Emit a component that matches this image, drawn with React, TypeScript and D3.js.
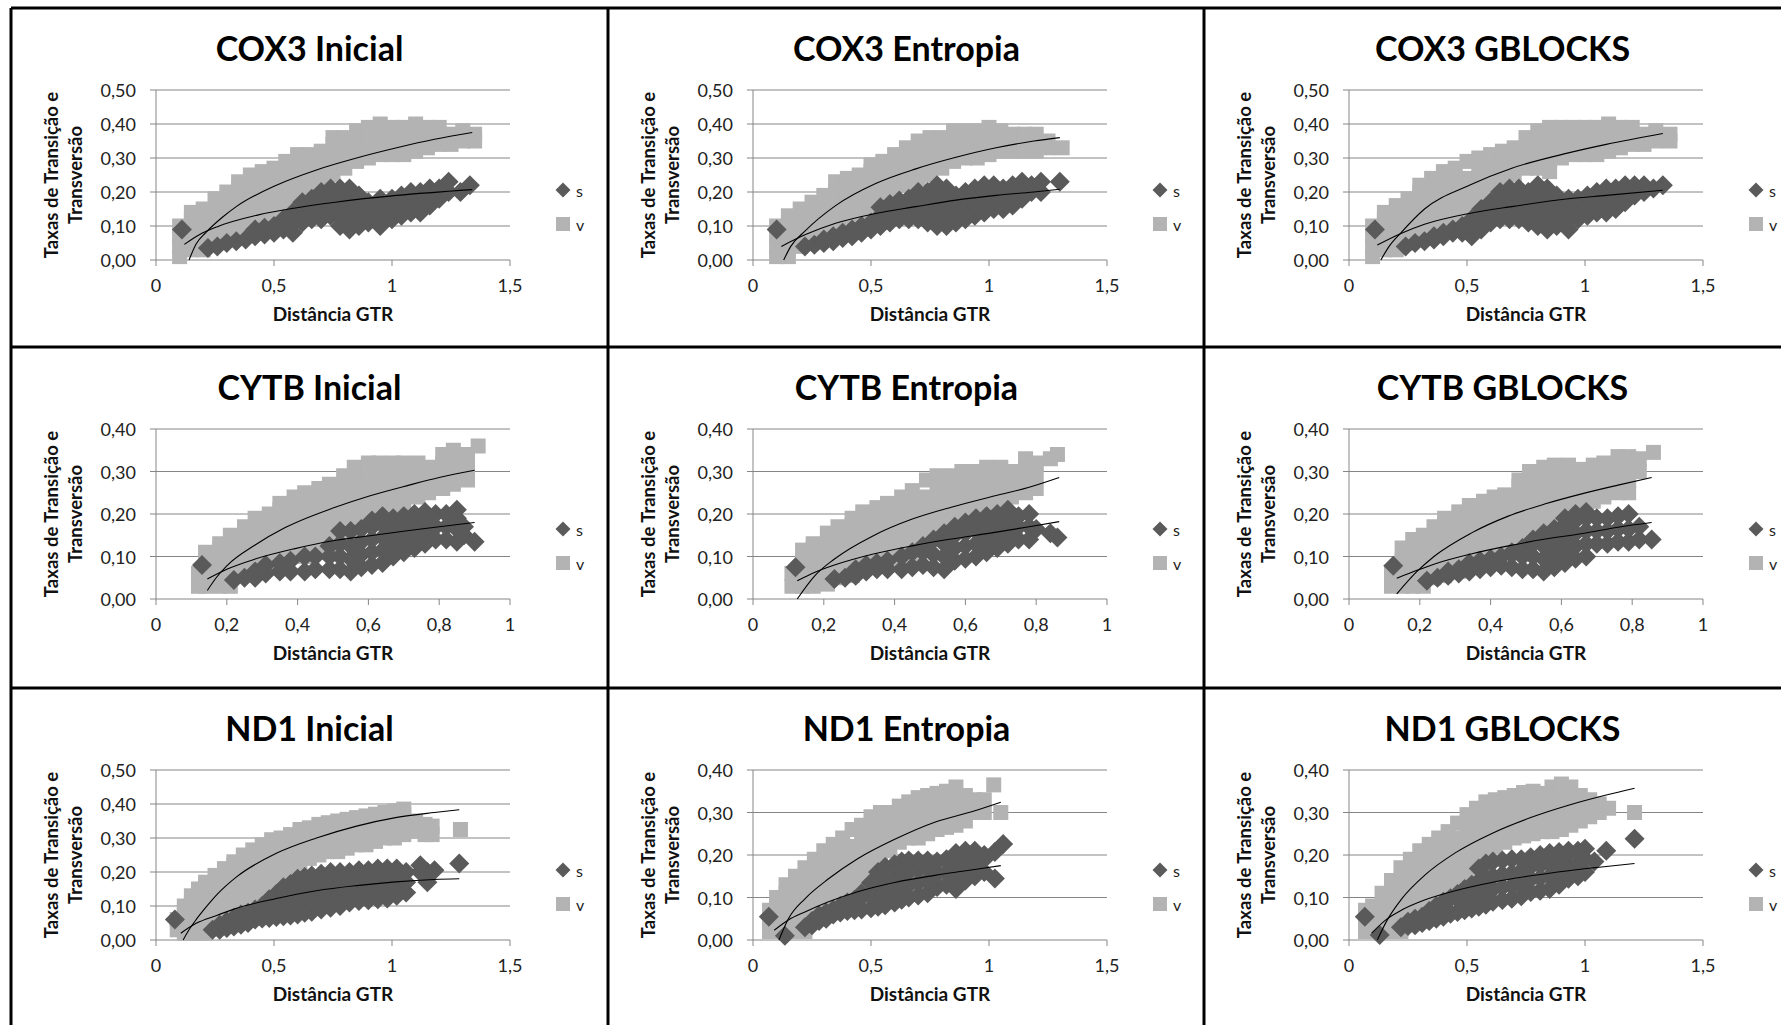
import React from "react";
import * as d3 from "d3";

// Each row: [x, y1, y2, ...] -> one marker per y at that x
const cox3InicialV = [
  [0.10, 0.01, 0.04, 0.07, 0.10], [0.15, 0.03, 0.06, 0.09, 0.12, 0.14], [0.20, 0.03, 0.06, 0.09, 0.12, 0.15],
  [0.25, 0.05, 0.08, 0.11, 0.14, 0.18], [0.30, 0.08, 0.11, 0.14, 0.17, 0.20], [0.35, 0.09, 0.12, 0.15, 0.18, 0.21, 0.23],
  [0.40, 0.10, 0.13, 0.16, 0.19, 0.22, 0.25], [0.45, 0.11, 0.14, 0.17, 0.20, 0.23, 0.26], [0.50, 0.12, 0.15, 0.18, 0.21, 0.24, 0.27],
  [0.55, 0.14, 0.17, 0.20, 0.23, 0.26, 0.29], [0.60, 0.17, 0.20, 0.23, 0.26, 0.29, 0.31], [0.65, 0.19, 0.22, 0.25, 0.28, 0.31],
  [0.70, 0.23, 0.26, 0.29, 0.32], [0.75, 0.25, 0.28, 0.31, 0.34, 0.36], [0.80, 0.27, 0.30, 0.33, 0.36],
  [0.85, 0.29, 0.32, 0.35, 0.38], [0.90, 0.30, 0.33, 0.36, 0.39], [0.95, 0.31, 0.34, 0.37, 0.40],
  [1.00, 0.31, 0.34, 0.37, 0.39], [1.05, 0.31, 0.34, 0.37, 0.39], [1.10, 0.32, 0.35, 0.38, 0.40],
  [1.15, 0.33, 0.36, 0.39], [1.20, 0.34, 0.37, 0.39], [1.25, 0.34, 0.37], [1.30, 0.35, 0.38], [1.35, 0.35, 0.37],
];
const cox3InicialS = [
  [0.11, 0.09], [0.22, 0.035], [0.26, 0.04], [0.30, 0.05], [0.34, 0.055], [0.38, 0.06], [0.42, 0.07, 0.09],
  [0.46, 0.075, 0.095], [0.50, 0.08, 0.10], [0.54, 0.09, 0.12], [0.58, 0.08, 0.11, 0.14], [0.62, 0.11, 0.14, 0.17],
  [0.66, 0.12, 0.15, 0.18], [0.70, 0.12, 0.15, 0.18, 0.20], [0.74, 0.13, 0.16, 0.19, 0.21],
  [0.78, 0.10, 0.13, 0.16, 0.19, 0.21], [0.82, 0.09, 0.12, 0.15, 0.18, 0.21], [0.86, 0.10, 0.13, 0.16, 0.19],
  [0.90, 0.11, 0.14, 0.17], [0.95, 0.10, 0.13, 0.16, 0.18], [1.00, 0.12, 0.15, 0.18], [1.04, 0.13, 0.16, 0.19],
  [1.08, 0.14, 0.17, 0.20], [1.12, 0.14, 0.17, 0.20], [1.16, 0.16, 0.19, 0.21], [1.20, 0.18, 0.21],
  [1.24, 0.20, 0.23], [1.29, 0.20], [1.33, 0.22],
];
const cox3InicialTrendV = [[0.14, 0], [0.17, 0.047], [0.21, 0.08], [0.28, 0.125], [0.34, 0.157], [0.51, 0.22], [0.68, 0.265], [0.85, 0.30], [1.02, 0.33], [1.18, 0.355], [1.34, 0.375]];
const cox3InicialTrendS = [[0.12, 0.046], [0.18, 0.073], [0.26, 0.098], [0.43, 0.132], [0.59, 0.153], [0.76, 0.17], [1.02, 0.19], [1.34, 0.207]];

const cox3EntropiaV = [
  [0.10, 0.01, 0.04, 0.07, 0.10], [0.15, 0.01, 0.04, 0.07, 0.10, 0.13], [0.20, 0.04, 0.07, 0.10, 0.13, 0.15],
  [0.25, 0.05, 0.08, 0.11, 0.14, 0.17], [0.30, 0.07, 0.10, 0.13, 0.16, 0.19], [0.35, 0.08, 0.11, 0.14, 0.17, 0.20, 0.23],
  [0.40, 0.09, 0.12, 0.15, 0.18, 0.21, 0.24], [0.45, 0.10, 0.13, 0.16, 0.19, 0.22, 0.25], [0.50, 0.11, 0.14, 0.17, 0.20, 0.23, 0.26, 0.28],
  [0.55, 0.15, 0.18, 0.21, 0.24, 0.27, 0.29], [0.60, 0.19, 0.22, 0.25, 0.28, 0.31], [0.65, 0.22, 0.25, 0.28, 0.31, 0.33],
  [0.70, 0.24, 0.27, 0.30, 0.33, 0.35], [0.75, 0.25, 0.28, 0.31, 0.34, 0.36], [0.80, 0.27, 0.30, 0.33, 0.36],
  [0.85, 0.29, 0.32, 0.35, 0.38], [0.90, 0.30, 0.33, 0.36, 0.38], [0.95, 0.30, 0.33, 0.36, 0.38],
  [1.00, 0.31, 0.34, 0.37, 0.39], [1.05, 0.32, 0.35, 0.38], [1.10, 0.32, 0.35, 0.37], [1.15, 0.32, 0.35, 0.37],
  [1.20, 0.32, 0.35, 0.37], [1.25, 0.33, 0.35], [1.31, 0.33],
];
const cox3EntropiaS = [
  [0.10, 0.09], [0.22, 0.04], [0.26, 0.045], [0.30, 0.05, 0.06], [0.34, 0.055, 0.07], [0.38, 0.065, 0.08],
  [0.42, 0.07, 0.09], [0.46, 0.08, 0.10], [0.50, 0.09, 0.11], [0.54, 0.10, 0.13, 0.155], [0.58, 0.11, 0.14, 0.165],
  [0.62, 0.12, 0.15, 0.175], [0.66, 0.12, 0.15, 0.18], [0.70, 0.12, 0.15, 0.18, 0.20], [0.74, 0.11, 0.14, 0.17, 0.20],
  [0.78, 0.10, 0.13, 0.16, 0.19, 0.22], [0.82, 0.10, 0.13, 0.16, 0.19, 0.21], [0.86, 0.11, 0.14, 0.17, 0.19],
  [0.90, 0.12, 0.15, 0.18, 0.20], [0.94, 0.13, 0.16, 0.19, 0.21], [0.98, 0.14, 0.17, 0.20, 0.22],
  [1.02, 0.15, 0.18, 0.21, 0.22], [1.06, 0.15, 0.18, 0.21], [1.10, 0.16, 0.19, 0.22], [1.14, 0.18, 0.21, 0.23],
  [1.18, 0.20, 0.22], [1.22, 0.20, 0.23], [1.30, 0.23],
];
const cox3EntropiaTrendV = [[0.13, 0], [0.16, 0.04], [0.22, 0.085], [0.35, 0.16], [0.52, 0.225], [0.69, 0.268], [0.86, 0.302], [1.03, 0.33], [1.19, 0.35], [1.30, 0.36]];
const cox3EntropiaTrendS = [[0.12, 0.04], [0.22, 0.074], [0.35, 0.108], [0.52, 0.137], [0.69, 0.157], [0.86, 0.176], [1.03, 0.19], [1.19, 0.20], [1.30, 0.208]];

const cox3GblocksV = [
  [0.10, 0.01, 0.04, 0.07, 0.10], [0.15, 0.03, 0.06, 0.09, 0.12, 0.14], [0.20, 0.03, 0.06, 0.09, 0.12, 0.16],
  [0.25, 0.05, 0.08, 0.11, 0.14, 0.18], [0.30, 0.08, 0.11, 0.14, 0.17, 0.20, 0.22], [0.35, 0.09, 0.12, 0.15, 0.18, 0.21, 0.24],
  [0.40, 0.10, 0.13, 0.16, 0.19, 0.22, 0.26], [0.45, 0.11, 0.14, 0.17, 0.20, 0.23, 0.27], [0.50, 0.12, 0.15, 0.18, 0.21, 0.24, 0.29],
  [0.55, 0.14, 0.17, 0.20, 0.23, 0.26, 0.30], [0.60, 0.18, 0.21, 0.24, 0.27, 0.31], [0.65, 0.21, 0.24, 0.27, 0.30, 0.32],
  [0.70, 0.25, 0.28, 0.31, 0.33], [0.75, 0.27, 0.30, 0.33, 0.36], [0.80, 0.27, 0.30, 0.33, 0.36, 0.38],
  [0.85, 0.26, 0.29, 0.32, 0.35, 0.39], [0.90, 0.30, 0.33, 0.36, 0.39], [0.95, 0.31, 0.34, 0.37, 0.39],
  [1.00, 0.31, 0.34, 0.37, 0.39], [1.05, 0.31, 0.34, 0.37, 0.39], [1.10, 0.32, 0.35, 0.38, 0.40],
  [1.15, 0.33, 0.36, 0.39], [1.20, 0.34, 0.37, 0.39], [1.25, 0.34, 0.37], [1.30, 0.35, 0.38], [1.36, 0.35, 0.37],
];
const cox3GblocksS = [
  [0.11, 0.09], [0.24, 0.04], [0.28, 0.05], [0.32, 0.055], [0.36, 0.06, 0.07], [0.40, 0.07, 0.08], [0.44, 0.08, 0.09],
  [0.48, 0.08, 0.10], [0.52, 0.07, 0.10, 0.12], [0.56, 0.09, 0.12, 0.15], [0.60, 0.11, 0.14, 0.17],
  [0.64, 0.12, 0.15, 0.18, 0.20], [0.68, 0.12, 0.15, 0.18, 0.21], [0.72, 0.12, 0.15, 0.18, 0.21],
  [0.76, 0.11, 0.14, 0.17, 0.20], [0.80, 0.10, 0.13, 0.16, 0.19, 0.22], [0.84, 0.09, 0.12, 0.15, 0.18, 0.21],
  [0.88, 0.10, 0.13, 0.16, 0.19], [0.93, 0.09, 0.12, 0.15, 0.18], [0.97, 0.12, 0.15, 0.18], [1.01, 0.13, 0.16, 0.19],
  [1.05, 0.14, 0.17, 0.20], [1.09, 0.14, 0.17, 0.21], [1.13, 0.15, 0.18, 0.21], [1.17, 0.17, 0.20, 0.22],
  [1.21, 0.19, 0.22], [1.25, 0.20, 0.22], [1.29, 0.21], [1.33, 0.22],
];
const cox3GblocksTrendV = [[0.135, 0], [0.17, 0.04], [0.22, 0.08], [0.32, 0.15], [0.51, 0.22], [0.69, 0.27], [0.93, 0.315], [1.09, 0.34], [1.33, 0.372]];
const cox3GblocksTrendS = [[0.12, 0.044], [0.22, 0.078], [0.32, 0.105], [0.51, 0.137], [0.69, 0.157], [0.93, 0.18], [1.09, 0.19], [1.33, 0.205]];

const cytbInicialV = [
  [0.12, 0.03, 0.06], [0.14, 0.03, 0.06, 0.09, 0.11], [0.18, 0.03, 0.06, 0.09, 0.12, 0.13], [0.21, 0.03, 0.06, 0.09, 0.12, 0.15],
  [0.25, 0.06, 0.09, 0.12, 0.15, 0.17], [0.28, 0.07, 0.10, 0.13, 0.16, 0.19], [0.32, 0.08, 0.11, 0.14, 0.17, 0.20],
  [0.35, 0.09, 0.12, 0.15, 0.18, 0.21, 0.225], [0.39, 0.10, 0.13, 0.16, 0.19, 0.22, 0.24], [0.42, 0.10, 0.13, 0.16, 0.19, 0.22, 0.25],
  [0.46, 0.11, 0.14, 0.17, 0.20, 0.23, 0.26], [0.49, 0.12, 0.15, 0.18, 0.21, 0.24, 0.27], [0.53, 0.14, 0.17, 0.20, 0.23, 0.26, 0.29],
  [0.56, 0.16, 0.19, 0.22, 0.25, 0.28, 0.31], [0.60, 0.18, 0.21, 0.24, 0.27, 0.30, 0.32], [0.63, 0.20, 0.23, 0.26, 0.29, 0.32],
  [0.67, 0.21, 0.24, 0.27, 0.30, 0.32], [0.70, 0.22, 0.25, 0.28, 0.31, 0.32], [0.74, 0.24, 0.27, 0.30, 0.32],
  [0.77, 0.25, 0.28, 0.31], [0.81, 0.26, 0.29, 0.32, 0.34], [0.84, 0.27, 0.30, 0.33, 0.35], [0.88, 0.28, 0.31, 0.34], [0.91, 0.36],
];
const cytbInicialS = [
  [0.13, 0.08], [0.22, 0.045], [0.25, 0.05], [0.28, 0.05, 0.065], [0.31, 0.06, 0.08], [0.35, 0.065, 0.085], [0.38, 0.065, 0.09],
  [0.42, 0.065, 0.10], [0.45, 0.07, 0.10], [0.49, 0.07, 0.10, 0.125], [0.52, 0.07, 0.10, 0.13, 0.16], [0.55, 0.065, 0.095, 0.125, 0.16],
  [0.58, 0.075, 0.105, 0.135, 0.165], [0.61, 0.08, 0.11, 0.14, 0.17, 0.185], [0.64, 0.085, 0.115, 0.145, 0.175, 0.195],
  [0.67, 0.10, 0.13, 0.16, 0.19], [0.70, 0.11, 0.14, 0.17, 0.195], [0.73, 0.12, 0.15, 0.18, 0.20], [0.76, 0.13, 0.16, 0.19, 0.205],
  [0.79, 0.14, 0.17, 0.20], [0.82, 0.14, 0.17, 0.20], [0.85, 0.135, 0.165, 0.19, 0.21], [0.87, 0.15, 0.17], [0.90, 0.135],
];
const cytbInicialTrendV = [[0.145, 0.02], [0.17, 0.05], [0.20, 0.078], [0.28, 0.127], [0.365, 0.168], [0.50, 0.214], [0.605, 0.243], [0.715, 0.268], [0.80, 0.286], [0.90, 0.303]];
const cytbInicialTrendS = [[0.145, 0.047], [0.20, 0.07], [0.28, 0.094], [0.39, 0.118], [0.50, 0.137], [0.605, 0.149], [0.715, 0.161], [0.80, 0.17], [0.90, 0.18]];

const cytbEntropiaV = [
  [0.11, 0.03, 0.06], [0.14, 0.03, 0.06, 0.09, 0.115], [0.17, 0.03, 0.06, 0.09, 0.12, 0.13], [0.21, 0.035, 0.065, 0.095, 0.125, 0.155],
  [0.24, 0.05, 0.08, 0.11, 0.14, 0.17], [0.28, 0.055, 0.085, 0.115, 0.145, 0.175, 0.19], [0.31, 0.07, 0.10, 0.13, 0.16, 0.19, 0.205],
  [0.35, 0.08, 0.11, 0.14, 0.17, 0.20, 0.215], [0.38, 0.085, 0.115, 0.145, 0.175, 0.205, 0.225], [0.42, 0.09, 0.12, 0.15, 0.18, 0.21, 0.24],
  [0.45, 0.10, 0.13, 0.16, 0.19, 0.22, 0.255], [0.49, 0.12, 0.15, 0.18, 0.21, 0.24, 0.28], [0.52, 0.14, 0.17, 0.20, 0.23, 0.26, 0.29],
  [0.56, 0.17, 0.20, 0.23, 0.26, 0.29], [0.59, 0.19, 0.22, 0.25, 0.28, 0.30], [0.63, 0.21, 0.24, 0.27, 0.30],
  [0.66, 0.22, 0.25, 0.28, 0.31], [0.70, 0.23, 0.26, 0.29, 0.31], [0.73, 0.24, 0.27, 0.30], [0.77, 0.25, 0.28, 0.31, 0.33],
  [0.80, 0.26, 0.29, 0.32], [0.84, 0.33], [0.86, 0.34],
];
const cytbEntropiaS = [
  [0.12, 0.075], [0.23, 0.047], [0.26, 0.05], [0.29, 0.055, 0.07], [0.32, 0.065, 0.08], [0.35, 0.07, 0.085], [0.38, 0.07, 0.09],
  [0.42, 0.07, 0.10], [0.45, 0.075, 0.11], [0.48, 0.08, 0.11, 0.125], [0.51, 0.075, 0.105, 0.14], [0.54, 0.07, 0.10, 0.13, 0.155],
  [0.57, 0.09, 0.12, 0.15, 0.17], [0.60, 0.095, 0.125, 0.155, 0.18], [0.63, 0.10, 0.13, 0.16, 0.19], [0.66, 0.11, 0.14, 0.17, 0.195],
  [0.69, 0.12, 0.15, 0.18, 0.20], [0.72, 0.13, 0.16, 0.19, 0.21], [0.75, 0.14, 0.17, 0.195], [0.78, 0.14, 0.17, 0.20],
  [0.80, 0.165], [0.84, 0.155], [0.86, 0.145],
];
const cytbEntropiaTrendV = [[0.125, 0], [0.175, 0.055], [0.23, 0.094], [0.34, 0.149], [0.45, 0.188], [0.56, 0.216], [0.67, 0.24], [0.78, 0.263], [0.865, 0.286]];
const cytbEntropiaTrendS = [[0.125, 0.043], [0.175, 0.063], [0.23, 0.08], [0.34, 0.106], [0.45, 0.125], [0.56, 0.141], [0.67, 0.155], [0.78, 0.17], [0.865, 0.182]];

const cytbGblocksV = [
  [0.12, 0.03, 0.06], [0.15, 0.03, 0.06, 0.09, 0.12], [0.18, 0.03, 0.06, 0.09, 0.12, 0.14], [0.21, 0.03, 0.06, 0.09, 0.12, 0.15],
  [0.24, 0.05, 0.08, 0.11, 0.14, 0.17], [0.27, 0.055, 0.085, 0.115, 0.145, 0.175, 0.19], [0.31, 0.065, 0.095, 0.125, 0.155, 0.185, 0.205],
  [0.34, 0.075, 0.105, 0.135, 0.165, 0.195, 0.22], [0.38, 0.08, 0.11, 0.14, 0.17, 0.20, 0.23], [0.41, 0.09, 0.12, 0.15, 0.18, 0.21, 0.24],
  [0.44, 0.10, 0.13, 0.16, 0.19, 0.22, 0.245], [0.48, 0.115, 0.145, 0.175, 0.205, 0.235, 0.265, 0.28],
  [0.51, 0.13, 0.16, 0.19, 0.22, 0.25, 0.28, 0.30], [0.55, 0.16, 0.19, 0.22, 0.25, 0.28, 0.31], [0.58, 0.18, 0.21, 0.24, 0.27, 0.30, 0.315],
  [0.62, 0.20, 0.23, 0.26, 0.29, 0.315], [0.65, 0.215, 0.245, 0.275, 0.305], [0.69, 0.23, 0.26, 0.29, 0.315],
  [0.72, 0.24, 0.27, 0.30, 0.32], [0.76, 0.25, 0.28, 0.31, 0.335], [0.79, 0.25, 0.28, 0.31, 0.335], [0.82, 0.30, 0.33], [0.86, 0.345],
];
const cytbGblocksS = [
  [0.125, 0.078], [0.22, 0.043], [0.25, 0.05], [0.28, 0.055, 0.065], [0.31, 0.06, 0.07], [0.34, 0.065, 0.085], [0.37, 0.07, 0.09],
  [0.40, 0.075, 0.095], [0.43, 0.078, 0.10], [0.46, 0.075, 0.105, 0.11], [0.49, 0.07, 0.10, 0.12], [0.52, 0.07, 0.10, 0.13, 0.14],
  [0.55, 0.065, 0.095, 0.125, 0.155], [0.58, 0.075, 0.105, 0.135, 0.165], [0.61, 0.085, 0.115, 0.145, 0.175, 0.19],
  [0.64, 0.095, 0.125, 0.155, 0.185, 0.20], [0.67, 0.10, 0.13, 0.16, 0.19, 0.205], [0.70, 0.13, 0.16, 0.19], [0.73, 0.13, 0.16, 0.19],
  [0.76, 0.135, 0.165, 0.195], [0.79, 0.135, 0.165, 0.20], [0.82, 0.14, 0.17], [0.855, 0.14],
];
const cytbGblocksTrendV = [[0.135, 0.012], [0.19, 0.063], [0.24, 0.10], [0.345, 0.155], [0.45, 0.195], [0.555, 0.224], [0.66, 0.248], [0.76, 0.268], [0.855, 0.286]];
const cytbGblocksTrendS = [[0.135, 0.049], [0.19, 0.067], [0.24, 0.082], [0.345, 0.106], [0.45, 0.125], [0.555, 0.141], [0.66, 0.154], [0.76, 0.169], [0.855, 0.18]];

const nd1InicialV = [
  [0.09, 0.03, 0.06], [0.12, 0.02, 0.05, 0.08, 0.10], [0.15, 0.02, 0.05, 0.08, 0.11, 0.13], [0.18, 0.02, 0.05, 0.08, 0.11, 0.14, 0.15],
  [0.21, 0.02, 0.05, 0.08, 0.11, 0.14, 0.17], [0.25, 0.04, 0.07, 0.10, 0.13, 0.16, 0.19], [0.29, 0.06, 0.09, 0.12, 0.15, 0.18, 0.21],
  [0.33, 0.07, 0.10, 0.13, 0.16, 0.19, 0.22, 0.23], [0.37, 0.08, 0.11, 0.14, 0.17, 0.20, 0.23, 0.25],
  [0.41, 0.09, 0.12, 0.15, 0.18, 0.21, 0.24, 0.265], [0.45, 0.10, 0.13, 0.16, 0.19, 0.22, 0.25, 0.28],
  [0.49, 0.12, 0.15, 0.18, 0.21, 0.24, 0.27, 0.295], [0.53, 0.15, 0.18, 0.21, 0.24, 0.27, 0.30], [0.57, 0.19, 0.22, 0.25, 0.28, 0.31],
  [0.61, 0.22, 0.25, 0.28, 0.31, 0.325], [0.65, 0.24, 0.27, 0.30, 0.33], [0.69, 0.25, 0.28, 0.31, 0.34], [0.73, 0.26, 0.29, 0.32, 0.345],
  [0.77, 0.26, 0.29, 0.32, 0.35], [0.81, 0.27, 0.30, 0.33, 0.355], [0.85, 0.28, 0.31, 0.34, 0.36], [0.89, 0.28, 0.31, 0.34, 0.365],
  [0.93, 0.29, 0.32, 0.35, 0.37], [0.97, 0.30, 0.33, 0.36, 0.375], [1.01, 0.30, 0.33, 0.36, 0.38], [1.05, 0.31, 0.34, 0.37, 0.385],
  [1.10, 0.32, 0.35], [1.14, 0.31, 0.34], [1.17, 0.31, 0.335], [1.29, 0.325],
];
const nd1InicialS = [
  [0.08, 0.06], [0.24, 0.03], [0.27, 0.03, 0.045], [0.30, 0.035, 0.055], [0.33, 0.04, 0.065], [0.36, 0.045, 0.075], [0.39, 0.05, 0.08],
  [0.42, 0.06, 0.09], [0.45, 0.063, 0.093, 0.10], [0.48, 0.065, 0.095, 0.12], [0.51, 0.068, 0.098, 0.128, 0.135],
  [0.54, 0.07, 0.10, 0.13, 0.155], [0.57, 0.072, 0.102, 0.132, 0.165], [0.60, 0.075, 0.105, 0.135, 0.165, 0.18],
  [0.63, 0.08, 0.11, 0.14, 0.17, 0.185], [0.66, 0.083, 0.113, 0.143, 0.173, 0.19], [0.70, 0.09, 0.12, 0.15, 0.18, 0.195],
  [0.74, 0.095, 0.125, 0.155, 0.185, 0.20], [0.78, 0.10, 0.13, 0.16, 0.19, 0.20], [0.82, 0.11, 0.14, 0.17, 0.20],
  [0.86, 0.115, 0.145, 0.175, 0.205], [0.90, 0.117, 0.147, 0.177, 0.205], [0.94, 0.12, 0.15, 0.18, 0.21],
  [0.98, 0.122, 0.152, 0.182, 0.21], [1.02, 0.13, 0.16, 0.19, 0.21], [1.06, 0.14, 0.17, 0.20], [1.12, 0.20, 0.22],
  [1.15, 0.17, 0.20], [1.18, 0.205], [1.285, 0.225],
];
const nd1InicialTrendV = [[0.115, 0], [0.14, 0.03], [0.17, 0.06], [0.21, 0.095], [0.26, 0.135], [0.34, 0.185], [0.51, 0.255], [0.68, 0.30], [0.85, 0.335], [1.015, 0.36], [1.18, 0.375], [1.285, 0.383]];
const nd1InicialTrendS = [[0.105, 0.02], [0.17, 0.049], [0.26, 0.073], [0.34, 0.093], [0.51, 0.122], [0.68, 0.145], [0.85, 0.16], [1.015, 0.171], [1.18, 0.178], [1.285, 0.18]];

const nd1EntropiaV = [
  [0.07, 0.02, 0.05, 0.07], [0.10, 0.02, 0.05, 0.08, 0.10], [0.14, 0.02, 0.05, 0.08, 0.11, 0.13], [0.18, 0.02, 0.05, 0.08, 0.11, 0.14, 0.15],
  [0.22, 0.02, 0.05, 0.08, 0.11, 0.14, 0.17], [0.26, 0.05, 0.08, 0.11, 0.14, 0.17, 0.19], [0.30, 0.07, 0.10, 0.13, 0.16, 0.19, 0.21],
  [0.34, 0.08, 0.11, 0.14, 0.17, 0.20, 0.225], [0.38, 0.09, 0.12, 0.15, 0.18, 0.21, 0.24], [0.42, 0.10, 0.13, 0.16, 0.19, 0.22, 0.26],
  [0.46, 0.12, 0.15, 0.18, 0.21, 0.24, 0.27], [0.50, 0.14, 0.17, 0.20, 0.23, 0.26, 0.29], [0.54, 0.18, 0.21, 0.24, 0.27, 0.30],
  [0.58, 0.21, 0.24, 0.27, 0.30], [0.62, 0.23, 0.26, 0.29, 0.315], [0.66, 0.24, 0.27, 0.30, 0.325], [0.70, 0.24, 0.27, 0.30, 0.335],
  [0.74, 0.25, 0.28, 0.31, 0.34], [0.78, 0.26, 0.29, 0.32, 0.345], [0.82, 0.265, 0.295, 0.325, 0.35], [0.86, 0.27, 0.30, 0.33, 0.36],
  [0.90, 0.28, 0.31, 0.34], [0.94, 0.30, 0.33], [0.98, 0.30, 0.33], [1.02, 0.365], [1.05, 0.30],
];
const nd1EntropiaS = [
  [0.067, 0.055], [0.135, 0.01], [0.22, 0.03], [0.25, 0.035, 0.045], [0.28, 0.045, 0.058], [0.31, 0.05, 0.065], [0.34, 0.06, 0.072],
  [0.37, 0.065, 0.08], [0.40, 0.068, 0.088], [0.43, 0.07, 0.095], [0.46, 0.072, 0.10, 0.11], [0.50, 0.075, 0.105, 0.135],
  [0.53, 0.078, 0.108, 0.138, 0.16], [0.56, 0.082, 0.112, 0.142, 0.172], [0.60, 0.088, 0.118, 0.148, 0.178],
  [0.63, 0.095, 0.125, 0.155, 0.185], [0.66, 0.10, 0.13, 0.16, 0.187], [0.70, 0.105, 0.135, 0.165, 0.187],
  [0.74, 0.11, 0.14, 0.17, 0.187], [0.78, 0.125, 0.155, 0.185], [0.82, 0.13, 0.16, 0.19], [0.86, 0.12, 0.15, 0.18, 0.205],
  [0.90, 0.14, 0.17, 0.20, 0.21], [0.94, 0.15, 0.18, 0.21], [0.98, 0.16, 0.19, 0.20], [1.025, 0.145, 0.207], [1.06, 0.226],
];
const nd1EntropiaTrendV = [[0.11, 0], [0.15, 0.05], [0.22, 0.097], [0.32, 0.144], [0.44, 0.19], [0.605, 0.238], [0.77, 0.277], [0.94, 0.304], [1.05, 0.324]];
const nd1EntropiaTrendS = [[0.09, 0.023], [0.15, 0.047], [0.22, 0.066], [0.32, 0.09], [0.44, 0.113], [0.605, 0.136], [0.77, 0.152], [0.94, 0.166], [1.05, 0.175]];

const nd1GblocksV = [
  [0.07, 0.02, 0.05, 0.07], [0.10, 0.02, 0.05, 0.08], [0.14, 0.02, 0.05, 0.08, 0.11], [0.18, 0.02, 0.05, 0.08, 0.11, 0.14],
  [0.22, 0.02, 0.05, 0.08, 0.11, 0.14, 0.17], [0.26, 0.04, 0.07, 0.10, 0.13, 0.16, 0.19], [0.30, 0.06, 0.09, 0.12, 0.15, 0.18, 0.21],
  [0.34, 0.075, 0.105, 0.135, 0.165, 0.195, 0.225], [0.38, 0.09, 0.12, 0.15, 0.18, 0.21, 0.24], [0.42, 0.10, 0.13, 0.16, 0.19, 0.22, 0.255],
  [0.46, 0.12, 0.15, 0.18, 0.21, 0.24, 0.275], [0.50, 0.14, 0.17, 0.20, 0.23, 0.26, 0.295], [0.54, 0.19, 0.22, 0.25, 0.28, 0.31],
  [0.58, 0.21, 0.24, 0.27, 0.30, 0.325], [0.62, 0.22, 0.25, 0.28, 0.31, 0.33], [0.66, 0.23, 0.26, 0.29, 0.32, 0.335],
  [0.70, 0.24, 0.27, 0.30, 0.33, 0.34], [0.74, 0.245, 0.275, 0.305, 0.335, 0.347], [0.78, 0.25, 0.28, 0.31, 0.34, 0.35],
  [0.82, 0.255, 0.285, 0.315, 0.345], [0.86, 0.255, 0.285, 0.315, 0.345, 0.36], [0.90, 0.26, 0.29, 0.32, 0.35, 0.367],
  [0.94, 0.27, 0.30, 0.33, 0.36], [0.98, 0.28, 0.31, 0.34], [1.02, 0.29, 0.32, 0.33], [1.06, 0.30, 0.32], [1.10, 0.31], [1.21, 0.30],
];
const nd1GblocksS = [
  [0.067, 0.055], [0.13, 0.012], [0.22, 0.03], [0.25, 0.033, 0.043], [0.28, 0.035, 0.05], [0.31, 0.04, 0.055], [0.34, 0.045, 0.068],
  [0.37, 0.05, 0.08], [0.40, 0.055, 0.09], [0.43, 0.062, 0.098], [0.46, 0.066, 0.096, 0.108], [0.49, 0.07, 0.10, 0.12],
  [0.52, 0.074, 0.104, 0.13], [0.55, 0.078, 0.108, 0.138, 0.168], [0.58, 0.083, 0.113, 0.143, 0.18], [0.61, 0.09, 0.12, 0.15, 0.185],
  [0.65, 0.094, 0.124, 0.154, 0.187], [0.69, 0.097, 0.127, 0.157, 0.19], [0.73, 0.103, 0.133, 0.163, 0.19],
  [0.77, 0.113, 0.143, 0.173, 0.195], [0.81, 0.116, 0.146, 0.176, 0.20], [0.85, 0.12, 0.15, 0.18, 0.205],
  [0.89, 0.13, 0.16, 0.19, 0.207], [0.93, 0.144, 0.174, 0.204, 0.21], [0.97, 0.15, 0.18, 0.21], [1.00, 0.16, 0.19, 0.215],
  [1.04, 0.185], [1.09, 0.21], [1.21, 0.238],
];
const nd1GblocksTrendV = [[0.12, 0], [0.16, 0.045], [0.225, 0.098], [0.32, 0.152], [0.45, 0.205], [0.61, 0.252], [0.77, 0.288], [0.93, 0.317], [1.09, 0.341], [1.21, 0.357]];
const nd1GblocksTrendS = [[0.096, 0.016], [0.16, 0.049], [0.225, 0.071], [0.32, 0.094], [0.45, 0.116], [0.61, 0.136], [0.77, 0.151], [0.93, 0.163], [1.09, 0.173], [1.21, 0.18]];

const xTicksWide = [0, 0.5, 1, 1.5];
const xTicksNarrow = [0, 0.2, 0.4, 0.6, 0.8, 1];
const yTicksHalf = [0, 0.1, 0.2, 0.3, 0.4, 0.5];
const yTicksFour = [0, 0.1, 0.2, 0.3, 0.4];

const panels = [
  { title: "COX3 Inicial", xTicks: xTicksWide, yTicks: yTicksHalf, v: cox3InicialV, s: cox3InicialS, tv: cox3InicialTrendV, ts: cox3InicialTrendS },
  { title: "COX3 Entropia", xTicks: xTicksWide, yTicks: yTicksHalf, v: cox3EntropiaV, s: cox3EntropiaS, tv: cox3EntropiaTrendV, ts: cox3EntropiaTrendS },
  { title: "COX3 GBLOCKS", xTicks: xTicksWide, yTicks: yTicksHalf, v: cox3GblocksV, s: cox3GblocksS, tv: cox3GblocksTrendV, ts: cox3GblocksTrendS },
  { title: "CYTB Inicial", xTicks: xTicksNarrow, yTicks: yTicksFour, v: cytbInicialV, s: cytbInicialS, tv: cytbInicialTrendV, ts: cytbInicialTrendS },
  { title: "CYTB Entropia", xTicks: xTicksNarrow, yTicks: yTicksFour, v: cytbEntropiaV, s: cytbEntropiaS, tv: cytbEntropiaTrendV, ts: cytbEntropiaTrendS },
  { title: "CYTB GBLOCKS", xTicks: xTicksNarrow, yTicks: yTicksFour, v: cytbGblocksV, s: cytbGblocksS, tv: cytbGblocksTrendV, ts: cytbGblocksTrendS },
  { title: "ND1 Inicial", xTicks: xTicksWide, yTicks: yTicksHalf, v: nd1InicialV, s: nd1InicialS, tv: nd1InicialTrendV, ts: nd1InicialTrendS },
  { title: "ND1 Entropia", xTicks: xTicksWide, yTicks: yTicksFour, v: nd1EntropiaV, s: nd1EntropiaS, tv: nd1EntropiaTrendV, ts: nd1EntropiaTrendS },
  { title: "ND1 GBLOCKS", xTicks: xTicksWide, yTicks: yTicksFour, v: nd1GblocksV, s: nd1GblocksS, tv: nd1GblocksTrendV, ts: nd1GblocksTrendS },
];

const W = 1781;
const H = 1025;
const colX = [11, 608, 1204];
const rowY = [8, 347, 688];
const panelW = 597;
const plot = { left: 145, right: 499, top: 82, bottom: 252 };
const FONT = "Lato, 'Open Sans', sans-serif";
const LIGHT = "#b3b3b3";
const DARK = "#5a5a5a";
const GRID = "#868686";

const ptBr = d3.formatLocale({ decimal: ",", thousands: ".", grouping: [3], currency: ["R$", ""] });
const fmtY = ptBr.format(".2f");
const fmtX = (d: number) => String(d).replace(".", ",");

const toPoints = (cols: number[][]) => cols.flatMap(([x, ...ys]) => ys.map((y) => [x, y]));
const diamond = (r: number) => `M0,${-r}L${r},0L0,${r}L${-r},0Z`;
const SQ = 15;
const DR = 10;

function Panel({ p, ox, oy }: { p: any; ox: number; oy: number }) {
  const xMax = p.xTicks[p.xTicks.length - 1];
  const yMax = p.yTicks[p.yTicks.length - 1];
  const x = d3.scaleLinear().domain([0, xMax]).range([plot.left, plot.right]);
  const y = d3.scaleLinear().domain([0, yMax]).range([plot.bottom, plot.top]);
  const line = d3.line<number[]>().x((d) => x(d[0])).y((d) => y(d[1])).curve(d3.curveMonotoneX);
  const vPts = toPoints(p.v);
  const sPts = toPoints(p.s);
  const cy = (plot.top + plot.bottom) / 2;

  return (
    <g transform={`translate(${ox},${oy})`}>
      <text x={panelW / 2} y={39} textAnchor="middle" dominantBaseline="central"
        fontFamily={FONT} fontWeight={700} fontSize={34} fill="#000">{p.title}</text>

      {p.yTicks.map((t: number) => (
        <g key={`y${t}`}>
          <line x1={plot.left - 6} x2={plot.right} y1={y(t)} y2={y(t)} stroke={GRID} strokeWidth={1} />
          <text x={plot.left - 20} y={y(t)} textAnchor="end" dominantBaseline="central"
            fontFamily={FONT} fontSize={18} fill="#222">{fmtY(t)}</text>
        </g>
      ))}
      <line x1={plot.left} x2={plot.left} y1={plot.top} y2={plot.bottom} stroke={GRID} strokeWidth={1} />
      {p.xTicks.map((t: number) => (
        <g key={`x${t}`}>
          <line x1={x(t)} x2={x(t)} y1={plot.bottom} y2={plot.bottom + 6} stroke={GRID} strokeWidth={1} />
          <text x={x(t)} y={plot.bottom + 25} textAnchor="middle" dominantBaseline="central"
            fontFamily={FONT} fontSize={18} fill="#222">{fmtX(t)}</text>
        </g>
      ))}

      <g fill={LIGHT}>
        {vPts.map(([a, b], i) => (
          <rect key={i} x={x(a) - SQ / 2} y={y(b) - SQ / 2} width={SQ} height={SQ} />
        ))}
      </g>
      <g fill={DARK}>
        {sPts.map(([a, b], i) => (
          <path key={i} d={diamond(DR)} transform={`translate(${x(a)},${y(b)})`} />
        ))}
      </g>
      <path d={line(p.tv) ?? ""} fill="none" stroke="#000" strokeWidth={1.1} />
      <path d={line(p.ts) ?? ""} fill="none" stroke="#000" strokeWidth={1.1} />

      <text x={(plot.left + plot.right) / 2} y={plot.bottom + 53} textAnchor="middle" dominantBaseline="central"
        fontFamily={FONT} fontWeight={700} fontSize={19} fill="#111">Distância GTR</text>
      <g transform={`translate(40,${cy}) rotate(-90)`}>
        <text x={0} y={0} textAnchor="middle" dominantBaseline="central"
          fontFamily={FONT} fontWeight={700} fontSize={18.5} fill="#111">Taxas de Transição e</text>
      </g>
      <g transform={`translate(64,${cy}) rotate(-90)`}>
        <text x={0} y={0} textAnchor="middle" dominantBaseline="central"
          fontFamily={FONT} fontWeight={700} fontSize={18.5} fill="#111">Transversão</text>
      </g>

      <path d={diamond(7.5)} transform={`translate(552,${cy + 15})`} fill={DARK} />
      <text x={565} y={cy + 15} dominantBaseline="central" fontFamily={FONT} fontSize={16} fill="#222">s</text>
      <rect x={552 - 7} y={cy + 49 - 7} width={14} height={14} fill={LIGHT} />
      <text x={565} y={cy + 49} dominantBaseline="central" fontFamily={FONT} fontSize={16} fill="#222">v</text>
    </g>
  );
}

export default function App() {
  return (
    <svg width={W} height={H} style={{ position: "absolute", left: 0, top: 0, background: "#fff" }}>
      <rect x={0} y={0} width={W} height={H} fill="#fff" />
      {panels.map((p, i) => (
        <Panel key={p.title} p={p} ox={colX[i % 3]} oy={rowY[Math.floor(i / 3)]} />
      ))}
      {rowY.map((ry) => (
        <line key={`h${ry}`} x1={colX[0]} x2={W} y1={ry} y2={ry} stroke="#000" strokeWidth={3} />
      ))}
      {colX.map((cx) => (
        <line key={`v${cx}`} x1={cx} x2={cx} y1={rowY[0]} y2={H} stroke="#000" strokeWidth={3} />
      ))}
    </svg>
  );
}
